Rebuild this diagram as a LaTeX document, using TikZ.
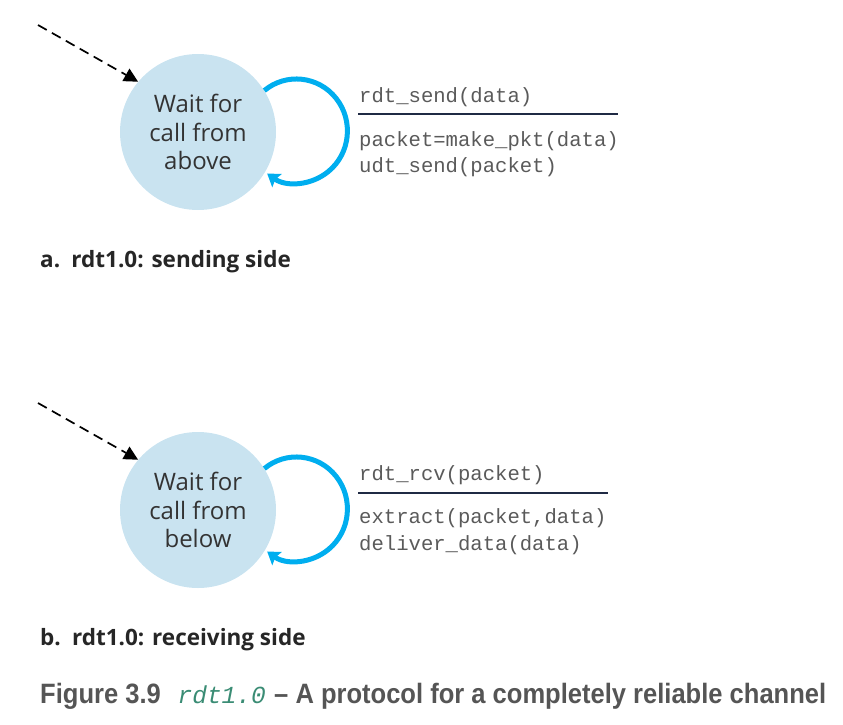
\documentclass[tikz,border=0pt]{standalone}
\usepackage{fontspec}
\setmainfont{Open Sans}
\setmonofont{Liberation Mono}
\newfontfamily\capfont[FakeStretch=0.912]{Liberation Sans}
\usetikzlibrary{arrows.meta}
\definecolor{circfill}{HTML}{C9E3F0}
\definecolor{loopblue}{HTML}{00AEEF}
\definecolor{statetext}{HTML}{333333}
\definecolor{monogray}{HTML}{5A5A5A}
\definecolor{rulenavy}{HTML}{1F2A44}
\definecolor{capgray}{HTML}{555555}
\definecolor{capteal}{HTML}{3A8C74}
\tikzset{
  state/.style={circle, fill=circfill, minimum size=156pt, inner sep=0pt, align=center,
    text=statetext, font=\fontsize{24}{28.5}\selectfont},
  initarrow/.style={draw=black, line width=1.7pt, dash pattern=on 10pt off 6pt,
    -{Triangle[length=14pt, width=14pt]}},
  loopline/.style={draw=loopblue, line width=5pt,
    -{Stealth[length=12pt, width=16pt, inset=2pt]}},
  monotext/.style={anchor=base west, inner sep=0pt, text=monogray,
    font=\ttfamily\fontsize{20.6}{26}\selectfont},
  guardrule/.style={draw=rulenavy, line width=1.5pt},
  subcap/.style={anchor=base west, inner sep=0pt, text=black!85,
    font=\bfseries\fontsize{22.5}{26}\selectfont},
  figcap/.style={anchor=base west, inner sep=0pt, text=capgray,
    font=\capfont\bfseries\fontsize{28}{32}\selectfont}
}
\begin{document}
\begin{tikzpicture}[x=1pt,y=1pt]
\useasboundingbox (0,0) rectangle (843,-725);
% ---- sending side ----
\node[state] (s1) at (198,-132) {Wait for\\call from\\above};
\coordinate (e1) at (38,-25);
\draw[initarrow] (e1) -- (s1.140);
\draw[loopline] (s1.32) arc[start angle=129, end angle=-125, x radius=51, y radius=52];
\node[monotext] (g1) at (359,-102) {rdt\_send(data)};
\coordinate (r1a) at (358,-114);
\coordinate (r1b) at (618,-114);
\draw[guardrule] (r1a) -- (r1b);
\node[monotext] (a1) at (359,-146) {packet=make\_pkt(data)};
\node[monotext] (a2) at (359,-172) {udt\_send(packet)};
\node[subcap] (ca) at (40,-267) {a.\hspace{0.5em}rdt1.0: sending side};
% ---- receiving side ----
\node[state] (s2) at (198,-510) {Wait for\\call from\\below};
\coordinate (e2) at (38,-403);
\draw[initarrow] (e2) -- (s2.140);
\draw[loopline] (s2.32) arc[start angle=129, end angle=-125, x radius=51, y radius=52];
\node[monotext] (g2) at (359,-480) {rdt\_rcv(packet)};
\coordinate (r2a) at (358,-493);
\coordinate (r2b) at (608,-493);
\draw[guardrule] (r2a) -- (r2b);
\node[monotext] (b1) at (359,-523) {extract(packet,data)};
\node[monotext] (b2) at (359,-550) {deliver\_data(data)};
\node[subcap] (cb) at (40,-645) {b.\hspace{0.5em}rdt1.0: receiving side};
% ---- figure caption ----
\node[figcap] (fc) at (40,-703) {Figure 3.9\hspace{0.6em}{\color{capteal}\mdseries\ttfamily\itshape\fontsize{24.5}{28}\selectfont rdt1.0}\hspace{0.3em}– A protocol for a completely reliable channel};
\end{tikzpicture}
\end{document}
